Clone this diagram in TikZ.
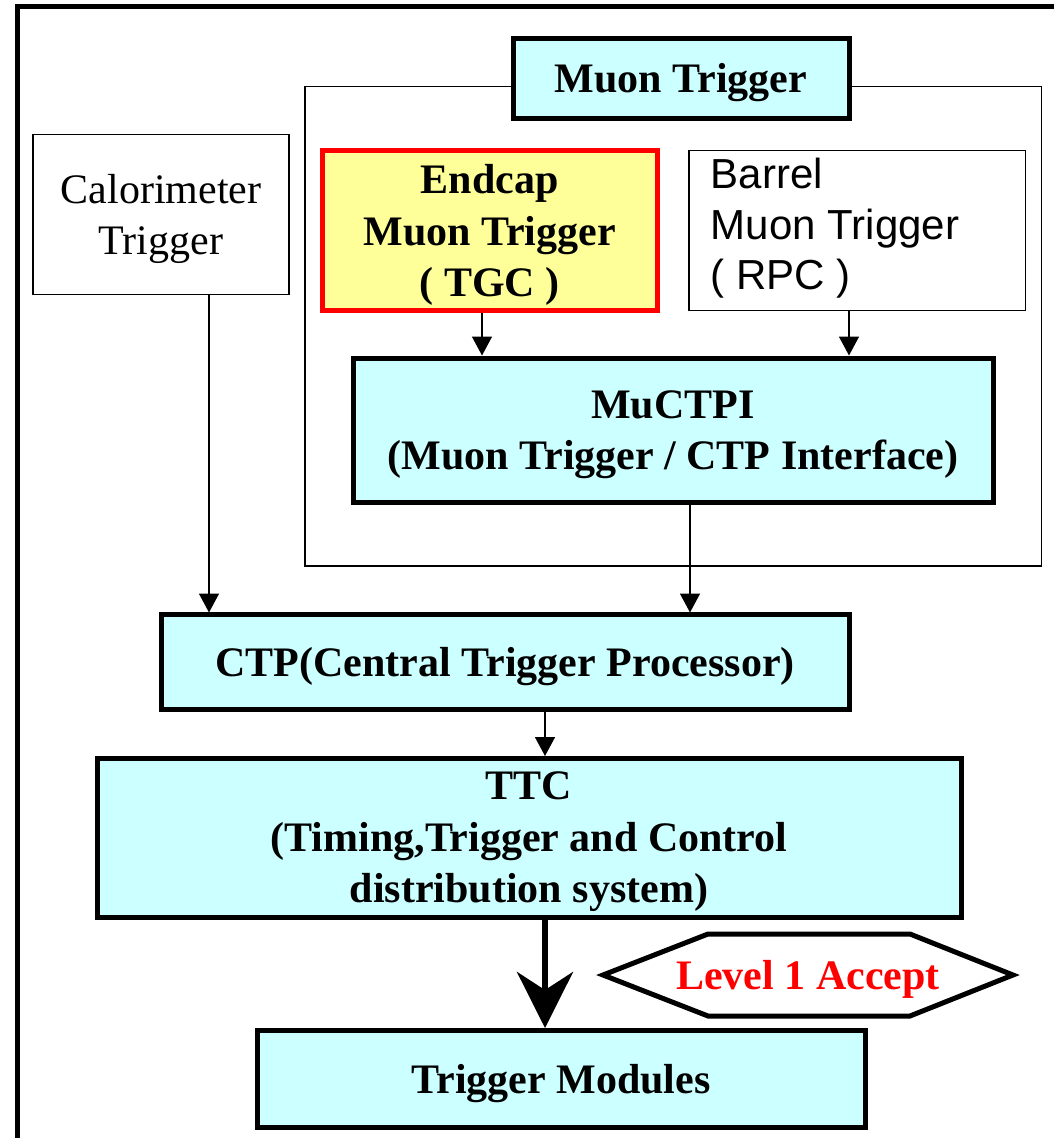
\documentclass[tikz,border=0pt]{standalone}
\usepackage{fontspec}
\setmainfont{Liberation Serif}
\newfontfamily\arialfont{Liberation Sans}
\usetikzlibrary{arrows.meta}
\definecolor{cyanfill}{HTML}{CCFFFF}
\definecolor{yellowfill}{HTML}{FFFF99}
\definecolor{redline}{HTML}{FF0000}
\begin{document}
\begin{tikzpicture}[x=1pt,y=-1pt,
  thinbox/.style={draw, line width=1.5pt, inner sep=0pt, align=center, text depth=-1pt, font=\fontsize{42}{51}\selectfont},
  thickbox/.style={draw, line width=5pt, fill=cyanfill, inner sep=0pt, align=center, text depth=0pt, font=\fontsize{42}{51.5}\selectfont\bfseries},
  multiline/.style={text depth=-7pt},
  thinarrow/.style={line width=1.5pt, -{Triangle[width=20pt,length=19pt]}},
  bigarrow/.style={line width=6pt, -{Stealth[width=56pt,length=56pt,inset=18pt]}}
]
\path[use as bounding box] (0,0) rectangle (1054,1138);
\clip (0,0) rectangle (1054,1138);
% outer frame
\draw[line width=5pt] (17.5,1150) -- (17.5,6.3) -- (1070,6.3);
% muon container
\draw[line width=1.5pt] (305,86.5) rectangle (1041.7,566);
% nodes
\node[thickbox, minimum width=336pt, minimum height=80pt] (muon) at (681,78.2) {Muon Trigger};
\node[thinbox, minimum width=256pt, minimum height=160pt] (calo) at (161,214.3) {Calorimeter\\Trigger};
\node[draw=redline, line width=5pt, fill=yellowfill, inner sep=0pt, align=center,
      font=\fontsize{42}{51.5}\selectfont\bfseries, text depth=-5pt,
      minimum width=335.5pt, minimum height=159.5pt] (endcap) at (489.75,230.5) {Endcap\\Muon Trigger\\( TGC )};
\node[thinbox, minimum width=336.3pt, minimum height=160.4pt] (barrel) at (857.15,230.5) {};
\node[anchor=west, inner sep=0pt, align=left, font=\arialfont\fontsize{42}{50.5}\selectfont] (barreltext) at (710.7,228.5) {Barrel\\Muon Trigger\\( RPC )};
\node[thickbox, multiline, minimum width=640pt, minimum height=144pt] (muctpi) at (673,430) {MuCTPI\\(Muon Trigger / CTP Interface)};
\node[thickbox, minimum width=688pt, minimum height=95pt] (ctp) at (505,662) {CTP(Central Trigger Processor)};
\node[thickbox, multiline, minimum width=864pt, minimum height=159pt] (ttc) at (529,837.5) {TTC\\(Timing,Trigger and Control\\distribution system)};
\node[thickbox, minimum width=608pt, minimum height=97pt] (tm) at (561,1078.5) {Trigger Modules};
% hexagon
\node[inner sep=0pt, text=redline, text depth=0pt, font=\fontsize{42}{50}\selectfont\bfseries] (l1a) at (808,975) {Level 1 Accept};
\draw[line width=5pt, line join=miter] (603,975) -- (708,934) -- (910,934) -- (1013,975) -- (910,1016) -- (708,1016) -- cycle;
% connectors
\coordinate (caloout) at (209,294.3);
\draw[thinarrow] (caloout) -- (209,612.5);
\draw[thinarrow] (endcap.south -| 482,0) -- (482,355.5);
\draw[thinarrow] (barrel.south -| 849,0) -- (849,355.5);
\draw[thinarrow] (muctpi.south -| 690,0) -- (690,612.5);
\draw[thinarrow] (ctp.south -| 545,0) -- (545,756);
\draw[bigarrow] (ttc.south -| 545,0) -- (545,1028);
\end{tikzpicture}
\end{document}
